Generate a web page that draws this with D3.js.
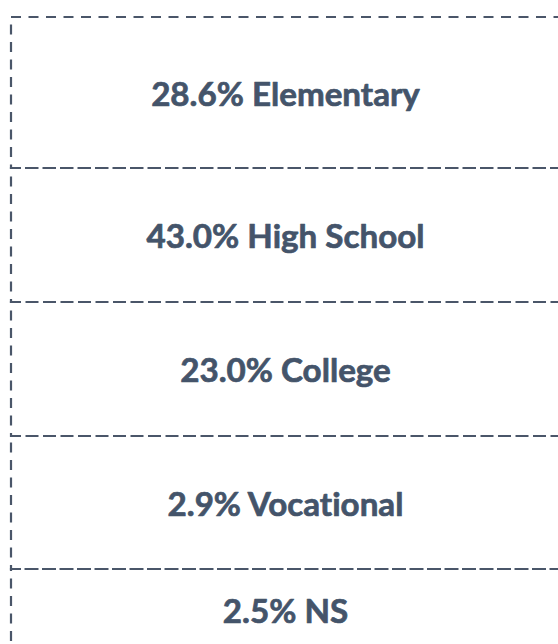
<!DOCTYPE html>
<html>
<head>
<meta charset="utf-8">
<script src="https://cdn.jsdelivr.net/npm/d3@7"></script>
<style>
  html, body { margin: 0; padding: 0; background: #ffffff; }
  svg { display: block; }
</style>
</head>
<body>
<svg id="chart" width="558" height="644"></svg>
<script>
// ---- data ----
const categories = ["Elementary", "High School", "College", "Vocational", "NS"];
const percents = [28.6, 43.0, 23.0, 2.9, 2.5];

// ---- layout (not data) ----
const left = 11, right = 560;
const rowEdges = [17, 168, 302, 436, 569, 651];
const ink = "#44546a";
const lineColor = "#4a5669";

const svg = d3.select("#chart");

const rows = categories.map((c, i) => ({
  label: percents[i].toFixed(1) + "% " + c,
  y0: rowEdges[i],
  y1: rowEdges[i + 1]
}));

const x = d3.scaleLinear().domain([0, 1]).range([left, right]);

const g = svg.selectAll("g.row").data(rows).join("g").attr("class", "row");

g.append("rect")
  .attr("x", x(0))
  .attr("y", d => d.y0)
  .attr("width", x(1) - x(0))
  .attr("height", d => d.y1 - d.y0)
  .attr("fill", "none")
  .attr("stroke", lineColor)
  .attr("stroke-width", 2.2)
  .attr("stroke-dasharray", "10,7.5");

const texts = g.append("text")
  .attr("x", (x(0) + x(1)) / 2)
  .attr("y", d => (d.y0 + d.y1) / 2)
  .attr("text-anchor", "middle")
  .attr("dominant-baseline", "central")
  .attr("fill", ink)
  .attr("stroke", ink)
  .attr("stroke-width", 0.7)
  .attr("stroke-linejoin", "round")
  .style("font-family", "Lato, 'Open Sans', sans-serif")
  .style("font-weight", 700)
  .style("font-variant-ligatures", "none")
  .style("font-feature-settings", "'liga' 0, 'clig' 0")
  .style("font-size", "30px")
  .text(d => d.label);

// fit font size so the widest label matches the reference width (~278px for "43.0% High School")
let maxW = 0;
texts.each(function () { maxW = Math.max(maxW, this.getComputedTextLength()); });
if (maxW > 0) {
  const fs = 30 * 278 / maxW;
  texts.style("font-size", fs.toFixed(2) + "px");
}
</script>
</body>
</html>
